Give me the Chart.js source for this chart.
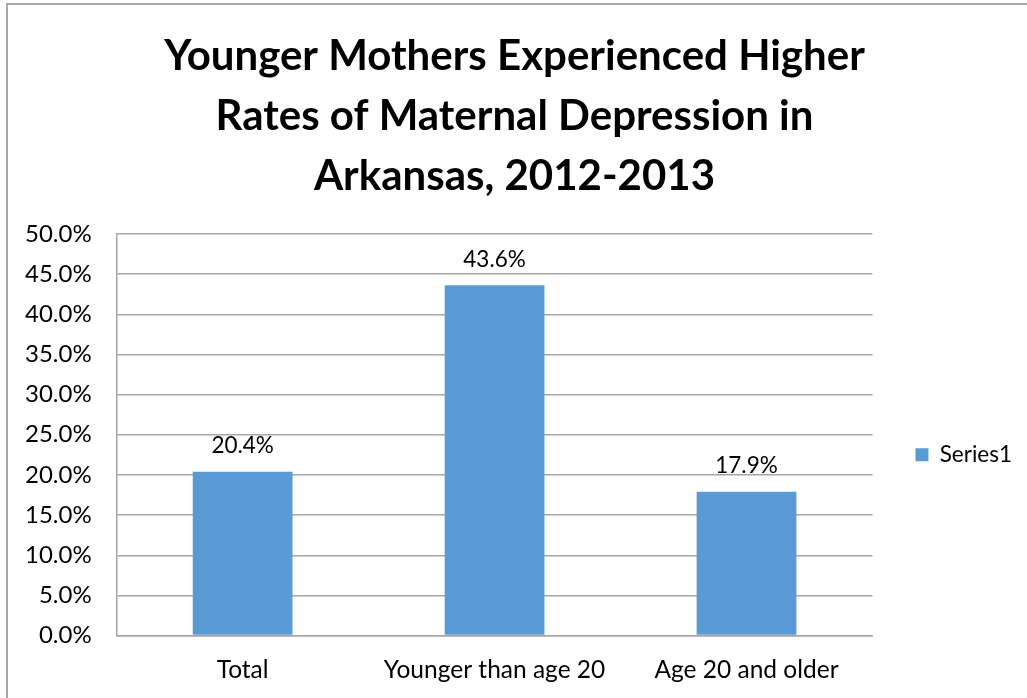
<!DOCTYPE html>
<html>
<head>
<meta charset="utf-8">
<script src="https://cdn.jsdelivr.net/npm/chart.js@4"></script>
<style>
  html, body { margin: 0; padding: 0; background: #fff; }
  #wrap { position: relative; width: 1027px; height: 698px; overflow: hidden; }
  #frame { position: absolute; left: 6px; top: 3px; right: -5px; bottom: -5px;
           border-left: 2px solid #a8a8a8; border-top: 2px solid #a8a8a8; }
  canvas { position: absolute; left: 0; top: 0; }
</style>
</head>
<body>
<div id="wrap">
  <div id="frame"></div>
  <canvas id="chart" width="1027" height="698"></canvas>
</div>
<script>
// values
var categories = ["Total", "Younger than age 20", "Age 20 and older"];
var series1 = [20.4, 43.6, 17.9];
var titleLines = ["Younger Mothers Experienced Higher", "Rates of Maternal Depression in", "Arkansas, 2012-2013"];

var FONT = "Lato, 'Open Sans', sans-serif";

// write the value above each bar
var barValues = {
    id: 'barValues',
    afterDatasetsDraw: function (chart) {
        var ctx = chart.ctx;
        var meta = chart.getDatasetMeta(0);
        ctx.save();
        ctx.font = "22.5px " + FONT;
        ctx.fillStyle = "#000";
        ctx.textAlign = "center";
        ctx.textBaseline = "middle";
        meta.data.forEach(function (bar, i) {
            ctx.fillText(series1[i].toFixed(1) + "%", bar.x, bar.y - 26);
        });
        ctx.restore();
    }
};

// nudge legend and title to where the original has them
var placeBlocks = {
    id: 'placeBlocks',
    afterLayout: function (chart) {
        var lg = chart.legend;
        lg.left += 33;
        lg.right += 33;
        lg.top += 40;
        var tb = chart.titleBlock;
        tb.left += 20;
        tb.right += 20;
    }
};

new Chart(document.getElementById("chart"), {
    type: 'bar',
    data: {
        labels: categories,
        datasets: [{
            label: "Series1",
            data: series1,
            backgroundColor: "#5b9bd5",
            borderWidth: 0,
            categoryPercentage: 1,
            barPercentage: 0.396
        }]
    },
    options: {
        responsive: false,
        animation: false,
        layout: { padding: { left: 0, right: 38, top: 0, bottom: -7 } },
        plugins: {
            title: {
                display: true,
                text: titleLines,
                color: "#000",
                font: { family: FONT, size: 42, weight: "bold", lineHeight: 1.42 },
                padding: { top: 27, bottom: 28 }
            },
            legend: {
                position: 'right',
                fullSize: false,
                labels: {
                    color: "#000",
                    font: { family: FONT, size: 22.5 },
                    boxWidth: 13,
                    boxHeight: 13,
                    padding: 10
                }
            },
            tooltip: { enabled: false }
        },
        scales: {
            y: {
                min: 0,
                max: 50,
                ticks: {
                    stepSize: 5,
                    color: "#000",
                    font: { family: FONT, size: 24 },
                    padding: 25,
                    callback: function (v) { return v.toFixed(1) + "%"; }
                },
                grid: { color: "#a6a6a6", lineWidth: 1.5, drawTicks: false },
                border: { display: true, color: "#a6a6a6", width: 1.5 }
            },
            x: {
                ticks: {
                    color: "#000",
                    font: { family: FONT, size: 24.5 },
                    padding: 20
                },
                grid: { display: false, drawTicks: false },
                border: { display: true, color: "#a6a6a6", width: 1.5 }
            }
        }
    },
    plugins: [barValues, placeBlocks]
});
</script>
</body>
</html>
